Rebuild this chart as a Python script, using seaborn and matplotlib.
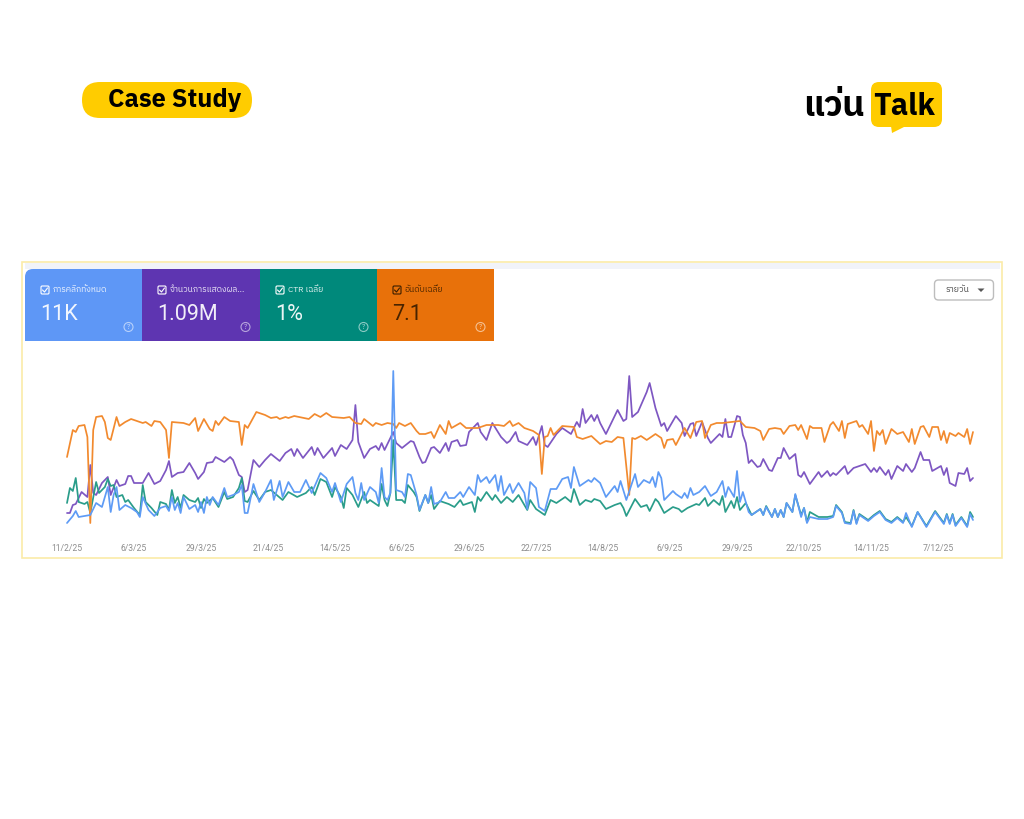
import pandas as pd
import matplotlib
matplotlib.use('Agg')
import matplotlib.pyplot as plt
from matplotlib.patches import Circle, FancyBboxPatch, Polygon, Rectangle
import seaborn as sns

# === Data (days since 11/2/25, relative height on the chart) ===
tick_labels = ['11/2/25', '6/3/25', '29/3/25', '21/4/25', '14/5/25', '6/6/25', '29/6/25',
               '22/7/25', '14/8/25', '6/9/25', '29/9/25', '22/10/25', '14/11/25', '7/12/25']

card_titles = ['การคลิกทั้งหมด', 'จำนวนการแสดงผล...', 'CTR เฉลี่ย', 'อันดับเฉลี่ย']
card_values = ['11K', '1.09M', '1%', '7.1']
card_colors = ['#5E97F6', '#5E35B1', '#00897B', '#E8710A']
card_inks = ['white', 'white', 'white', '#3a1d00']

orange_days = [0, 2, 3, 4, 6, 7, 8, 9, 10, 12, 13, 14, 15, 17, 18, 20, 22, 24, 26, 27,
               29, 30, 32, 34, 35, 36, 40, 42, 44, 45, 47, 49, 50, 51, 52, 54, 56, 59, 60, 61,
               62, 65, 68, 70, 72, 73, 75, 76, 78, 83, 85, 87, 89, 91, 95, 97, 99, 101,
               102, 105, 106, 108, 110, 112, 113, 114, 116, 118, 120, 121, 123, 125, 126, 128, 130, 131, 132, 135,
               137, 141, 144, 148, 150, 152, 153, 155, 157, 160, 162, 163, 164, 165, 166, 167, 170, 174, 175, 177,
               180, 183, 185, 187, 189, 191, 193, 194, 195, 197, 199, 202, 204, 205, 206, 208, 209,
               212, 214, 216, 218, 219, 221, 223, 225, 228, 231, 233, 236, 238, 239, 241, 243, 245, 246, 248, 250,
               251, 252, 254, 255, 256, 259, 260, 262, 263, 265, 266, 267, 268, 271, 272, 273, 275, 276, 277, 278,
               279, 280, 281, 283, 285, 287, 289, 290, 291, 293, 294, 296, 297, 299, 300, 301, 302, 303, 305, 306,
               308, 309, 310, 311]
orange_vals = [83, 110, 108, 114, 115, 103, 17, 110, 123, 124, 118, 102, 100, 123, 114, 118, 121, 119, 117, 118,
               114, 119, 118, 110, 82, 118, 117, 115, 122, 109, 121, 111, 109, 119, 115, 123, 119, 118, 95, 115,
               112, 128, 125, 122, 123, 121, 123, 122, 124, 121, 126, 123, 127, 123, 122, 123, 117, 116,
               121, 114, 117, 115, 117, 116, 112, 117, 114, 117, 109, 106, 106, 108, 102, 115, 106, 119, 112, 117,
               112, 112, 115, 115, 114, 119, 114, 117, 112, 109, 105, 66, 103, 104, 112, 105, 114, 113, 103, 101,
               104, 96, 99, 98, 103, 102, 45, 102, 101, 104, 100, 106, 102, 92, 100, 101, 95,
               112, 102, 118, 119, 102, 115, 117, 117, 118, 119, 113, 112, 109, 100, 111, 112, 111, 106, 114, 115,
               110, 115, 101, 114, 112, 112, 98, 115, 118, 109, 119, 102, 116, 119, 113, 115, 106, 119, 89, 109,
               105, 110, 96, 111, 106, 108, 98, 111, 96, 113, 114, 103, 113, 113, 100, 109, 97, 107, 104, 107,
               103, 111, 96, 108]

purple_days = [0, 1, 2, 3, 5, 7, 8, 9, 10, 12, 14, 15, 17, 18, 20, 21, 22, 23, 26, 28,
               30, 32, 34, 35, 36, 38, 40, 42, 44, 45, 47, 48, 50, 51, 54, 56, 57, 59, 60, 61,
               62, 64, 66, 68, 70, 73, 75, 77, 78, 79, 81, 84, 85, 86, 88, 91, 92, 94, 96, 98,
               99, 100, 102, 104, 106, 107, 108, 109, 112, 113, 115, 118, 119, 121, 122, 123, 125, 126, 128, 130,
               131, 132, 134, 135, 137, 138, 141, 142, 144, 146, 149, 151, 152, 154, 155, 158, 160, 161, 163, 164,
               165, 168, 170, 173, 175, 176, 177, 178, 180, 181, 182, 183, 185, 189, 191, 192, 193, 194, 196, 199,
               200, 202, 204, 205, 206, 209, 211, 212, 214, 215, 216, 218, 220, 221, 224, 225, 226, 227, 228, 230,
               231, 232, 233, 234, 235, 237, 238, 239, 241, 242, 244, 245, 246, 248, 250, 251, 252, 253, 255, 258,
               259, 261, 262, 263, 264, 267, 268, 270, 271, 274, 276, 277, 278, 279, 281, 282, 283, 285, 287, 288,
               290, 291, 293, 294, 296, 297, 300, 301, 302, 303, 305, 306, 308, 309, 310, 311]
purple_vals = [27, 27, 35, 36, 48, 43, 75, 47, 45, 57, 63, 45, 60, 54, 56, 64, 64, 57, 57, 67,
               56, 59, 70, 79, 63, 67, 68, 77, 67, 61, 68, 77, 78, 83, 78, 83, 80, 65, 63, 48,
               50, 80, 73, 80, 86, 79, 87, 91, 84, 91, 82, 93, 85, 92, 82, 92, 84, 95, 91, 100,
               135, 98, 82, 91, 94, 90, 97, 90, 108, 97, 92, 99, 98, 83, 77, 78, 92, 93, 87, 97,
               89, 98, 100, 94, 95, 108, 117, 108, 100, 117, 103, 97, 99, 108, 99, 95, 103, 95, 114, 95,
               93, 106, 112, 106, 118, 113, 131, 117, 125, 119, 125, 117, 106, 130, 119, 121, 164, 123, 128, 148,
               157, 132, 114, 117, 109, 124, 117, 104, 116, 117, 104, 118, 102, 97, 106, 103, 121, 103, 103, 124,
               123, 105, 97, 77, 80, 73, 74, 81, 70, 69, 82, 82, 92, 81, 86, 65, 63, 68, 56, 68,
               63, 69, 64, 67, 65, 74, 66, 72, 73, 76, 68, 72, 68, 73, 65, 70, 61, 74, 69, 76,
               68, 72, 88, 80, 80, 69, 74, 65, 72, 57, 54, 67, 66, 72, 59, 62]

green_days = [0, 1, 2, 3, 4, 6, 7, 8, 10, 11, 13, 14, 15, 16, 17, 19, 20, 21, 23, 25,
              26, 27, 29, 31, 32, 34, 35, 36, 37, 38, 39, 40, 42, 44, 45, 46, 47, 48, 50, 52,
              54, 55, 57, 59, 60, 61, 62, 64, 66, 68, 70, 72, 74, 76, 79, 82, 84, 85, 87, 89,
              91, 92, 94, 95, 96, 98, 100, 102, 103, 104, 105, 107, 108, 109, 110, 111, 112, 113, 115, 116,
              117, 119, 120, 121, 123, 124, 125, 126, 128, 131, 133, 135, 136, 139, 140, 141, 142, 144, 146, 147,
              149, 151, 153, 155, 158, 159, 161, 164, 166, 168, 171, 173, 174, 176, 178, 180, 181, 183, 185, 188,
              190, 191, 192, 195, 197, 199, 200, 202, 203, 205, 208, 210, 211, 213, 216, 217, 219, 220, 222, 224,
              225, 226, 228, 229, 230, 231, 233, 235, 238, 239, 240, 242, 243, 244, 245, 246, 247, 249, 250, 252,
              253, 254, 255, 258, 261, 263, 264, 266, 267, 269, 270, 271, 272, 275, 277, 279, 281, 283, 285, 287,
              288, 290, 292, 295, 298, 301, 302, 303, 304, 305, 307, 309, 310, 311]
green_vals = [37, 52, 49, 62, 38, 36, 38, 27, 58, 47, 53, 61, 54, 55, 43, 45, 38, 40, 32, 25,
              55, 38, 32, 25, 38, 36, 30, 50, 37, 43, 32, 45, 40, 38, 42, 32, 41, 37, 42, 33,
              48, 41, 43, 52, 62, 39, 38, 49, 40, 48, 50, 45, 40, 48, 43, 47, 53, 45, 61, 58,
              43, 53, 43, 32, 52, 45, 33, 48, 37, 40, 38, 34, 56, 40, 34, 47, 100, 40, 40, 37,
              55, 48, 43, 29, 45, 37, 45, 31, 39, 36, 33, 40, 35, 38, 28, 43, 39, 48, 40, 45,
              37, 43, 38, 45, 30, 40, 31, 25, 40, 37, 43, 38, 51, 35, 40, 38, 41, 39, 31, 35,
              37, 32, 24, 41, 33, 35, 29, 41, 38, 27, 33, 31, 28, 32, 36, 35, 42, 34, 40, 35,
              44, 28, 39, 32, 43, 30, 37, 25, 31, 25, 34, 23, 31, 23, 30, 23, 37, 28, 45, 25,
              32, 18, 28, 23, 23, 24, 35, 28, 18, 17, 30, 17, 26, 20, 25, 29, 21, 18, 23, 18,
              23, 14, 28, 14, 29, 17, 26, 17, 26, 15, 23, 14, 28, 23]

blue_days = [0, 2, 3, 4, 6, 8, 10, 12, 14, 15, 16, 17, 18, 20, 22, 24, 25, 26, 28, 30,
             32, 34, 35, 36, 37, 38, 39, 40, 42, 44, 45, 46, 47, 48, 49, 50, 52, 54, 55, 57,
             59, 60, 61, 62, 64, 66, 68, 70, 71, 73, 74, 76, 78, 80, 82, 84, 87, 89, 91, 92,
             94, 96, 98, 99, 100, 101, 102, 104, 106, 107, 108, 109, 110, 111, 112, 113, 115, 116, 117, 118,
             120, 121, 123, 124, 125, 126, 128, 130, 131, 133, 135, 136, 138, 140, 141, 142, 144, 145, 147, 148,
             149, 150, 152, 153, 155, 157, 158, 159, 161, 162, 164, 166, 168, 170, 172, 173, 174, 176, 179, 180,
             181, 183, 185, 188, 189, 190, 192, 195, 196, 198, 200, 201, 202, 203, 204, 205, 208, 209, 211, 212,
             213, 214, 215, 217, 219, 221, 223, 225, 226, 227, 229, 230, 231, 232, 234, 235, 238, 239, 240, 242,
             243, 244, 245, 246, 247, 249, 250, 252, 253, 254, 255, 258, 261, 263, 264, 266, 267, 269, 270, 271,
             272, 275, 277, 279, 281, 283, 285, 287, 288, 290, 292, 295, 298, 301, 302, 303, 304, 305, 307, 309,
             310, 311]
blue_vals = [17, 24, 29, 23, 24, 25, 37, 33, 53, 28, 45, 53, 30, 35, 32, 28, 23, 43, 30, 24,
             32, 34, 29, 43, 30, 37, 27, 43, 31, 35, 28, 38, 27, 43, 35, 43, 35, 52, 43, 45,
             48, 55, 27, 27, 56, 38, 48, 60, 40, 59, 43, 58, 48, 48, 60, 47, 67, 62, 48, 57,
             38, 56, 63, 47, 40, 57, 40, 53, 48, 37, 72, 43, 40, 47, 169, 50, 48, 43, 66, 65,
             45, 30, 45, 37, 53, 36, 38, 48, 42, 42, 48, 43, 53, 45, 65, 58, 63, 57, 65, 49,
             64, 45, 56, 47, 57, 47, 31, 58, 52, 33, 29, 51, 51, 61, 63, 52, 73, 54, 60, 58,
             62, 57, 43, 54, 48, 59, 40, 66, 53, 60, 57, 63, 53, 68, 62, 40, 49, 46, 42, 47,
             42, 52, 45, 48, 54, 44, 48, 59, 43, 53, 43, 69, 38, 48, 28, 25, 31, 25, 33, 23,
             31, 23, 30, 23, 37, 28, 46, 23, 32, 17, 23, 21, 21, 23, 34, 27, 17, 16, 29, 16,
             25, 19, 24, 28, 20, 17, 22, 17, 27, 13, 28, 13, 28, 16, 25, 16, 25, 14, 22, 13,
             26, 20]

sns.set_theme(style="white")
plt.rcParams['font.family'] = ['IBM Plex Sans Thai', 'Open Sans', 'DejaVu Sans']

fig = plt.figure(figsize=(10.24, 8.19), dpi=100, facecolor='white')

# page layer in pixels
bg = fig.add_axes([0, 0, 1, 1])
bg.set_xlim(0, 1024)
bg.set_ylim(819, 0)
bg.axis('off')

YELLOW = '#FFCC00'
# logos
bg.add_patch(FancyBboxPatch((82, 82), 170, 36, boxstyle='round,pad=0,rounding_size=18', fc=YELLOW, ec='none'))
bg.text(108, 100.5, 'Case Study', fontsize=18.2, fontweight='bold', color='black', va='center', ha='left')
bg.add_patch(FancyBboxPatch((871, 82), 71, 45, boxstyle='round,pad=0,rounding_size=8', fc=YELLOW, ec='none'))
bg.add_patch(Polygon([[891, 126], [906, 126], [892, 133]], fc=YELLOW, ec='none'))
bg.text(873.5, 106.5, 'Talk', fontsize=22, fontweight='bold', color='black', va='center', ha='left')
bg.text(803, 107, 'แว่น', fontsize=25, fontweight='bold', color='black', va='center', ha='left')

# dashboard frame
bg.add_patch(Rectangle((21.5, 261.5), 980, 296, fc='white', ec='#FBEBA8', lw=1.2))
bg.add_patch(Rectangle((25, 263), 975, 6, fc='#F1F3F9', ec='none'))

card_left = [25, 142, 260, 377]
card_right = [142, 260, 377, 494]
for left, right, title, value, color, ink in zip(card_left, card_right, card_titles, card_values, card_colors, card_inks):
    if left == card_left[0]:
        bg.add_patch(FancyBboxPatch((left, 269), right - left, 72, boxstyle='round,pad=0,rounding_size=8', fc=color, ec='none'))
        bg.add_patch(Rectangle((left, 285), right - left, 56, fc=color, ec='none'))
        bg.add_patch(Rectangle((left + 20, 269), right - left - 20, 72, fc=color, ec='none'))
    else:
        bg.add_patch(Rectangle((left, 269), right - left, 72, fc=color, ec='none'))
    # checkbox
    bg.add_patch(FancyBboxPatch((left + 16, 286), 8, 8, boxstyle='round,pad=0,rounding_size=1.2', fc='none', ec=ink, lw=0.8))
    bg.plot([left + 17.5, left + 19.5, left + 22.5], [290, 292, 288], color=ink, lw=0.8)
    bg.text(left + 28, 290, title, fontsize=6.1, color=ink, va='center', ha='left', alpha=0.9)
    bg.text(left + 15.5, 315, value, fontsize=15.5, color=ink, va='center', ha='left', alpha=0.92,
            family=['Roboto', 'DejaVu Sans'])
    # help icon
    bg.add_patch(Circle((left + 103.5, 327), 4.5, fc='none', ec='white', lw=0.8, alpha=0.55))
    bg.text(left + 103.5, 327, '?', fontsize=5, color='white', alpha=0.6, va='center', ha='center')

# dropdown
bg.add_patch(FancyBboxPatch((934.5, 280), 59, 20, boxstyle='round,pad=0,rounding_size=4', fc='white', ec='#BDBDBD', lw=1))
bg.text(957, 290, 'รายวัน', fontsize=6.2, color='#444444', va='center', ha='center')
bg.add_patch(Polygon([[977.5, 288.5], [984.5, 288.5], [981, 292]], fc='#555555', ec='none'))

# chart layer
ax = fig.add_axes([67 / 1024, 1 - 540 / 819, (973 - 67) / 1024, 180 / 819])
ax.patch.set_alpha(0)
start = pd.Timestamp(2025, 2, 11)
series = [
    (purple_days, purple_vals, '#7E57C2'),
    (green_days, green_vals, '#2A9D8A'),
    (orange_days, orange_vals, '#F28A2E'),
    (blue_days, blue_vals, '#5E9BF5'),
]
for days, vals, color in series:
    df = pd.DataFrame({'date': start + pd.to_timedelta(days, unit='D'), 'value': vals})
    sns.lineplot(data=df, x='date', y='value', color=color, linewidth=1.25, errorbar=None, ax=ax, clip_on=False)

ax.set_xlim(start, start + pd.Timedelta(days=311))
ax.set_ylim(0, 180)
ax.set_xlabel('')
ax.set_ylabel('')
ax.set_yticks([])
ax.set_xticks(pd.to_datetime(tick_labels, format='%d/%m/%y'))
ax.set_xticklabels(tick_labels, fontsize=6.2, color='#8E8E8E', family=['Roboto', 'DejaVu Sans'])
ax.tick_params(axis='x', length=0, pad=2.8)
sns.despine(ax=ax, left=True, bottom=True)

fig.savefig('out.png', dpi=100)
